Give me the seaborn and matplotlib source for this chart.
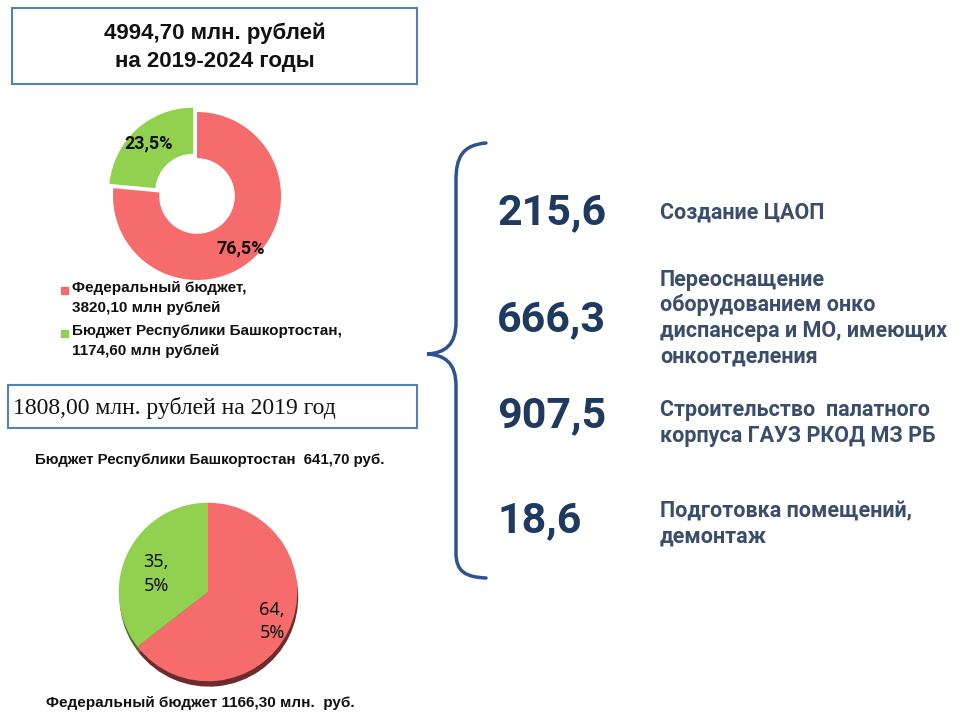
import numpy as np
import pandas as pd
import matplotlib
matplotlib.use('Agg')
import matplotlib.pyplot as plt
from matplotlib.patches import Rectangle, PathPatch
from matplotlib.path import Path
import seaborn as sns

# donut: 2019-2024 totals
total_title = '4994,70 млн. рублей\nна 2019-2024 годы'
donut_labels = ['Федеральный бюджет,\n3820,10 млн рублей',
                'Бюджет Республики Башкортостан,\n1174,60 млн рублей']
donut_values = [3820.10, 1174.60]
donut_pct = ['76,5%', '23,5%']

# pie: 2019
year_title = '1808,00 млн. рублей на 2019 год'
pie_values = [1166.30, 641.70]
pie_pct = ['64,\n5%', '35,\n5%']
pie_top_note = 'Бюджет Республики Башкортостан  641,70 руб.'
pie_bottom_note = 'Федеральный бюджет 1166,30 млн.  руб.'

# projects
project_values = ['215,6', '666,3', '907,5', '18,6']
project_names = ['Создание ЦАОП',
                 'Переоснащение\nоборудованием онко\nдиспансера и МО, имеющих\nонкоотделения',
                 'Строительство  палатного\nкорпуса ГАУЗ РКОД МЗ РБ',
                 'Подготовка помещений,\nдемонтаж']

sns.set_theme(style='white')
palette = ['#f66b6b', '#92d050']
shadow = ['#6e2b2b', '#4e6e2a']
bold_sans = ['Roboto', 'DejaVu Sans']

W, H = 972, 718
fig = plt.figure(figsize=(W / 100, H / 100), dpi=100)
bg = fig.add_axes([0, 0, 1, 1])
bg.set_xlim(0, W)
bg.set_ylim(H, 0)
bg.axis('off')


def px_axes(cx, cy, s):
    return fig.add_axes([(cx - s / 2) / W, 1 - (cy + s / 2) / H, s / W, s / H])


# title boxes
bg.add_patch(Rectangle((12, 8), 405, 76, fill=False, ec='#4f81bd', lw=1.5))
bg.text(215, 47, total_title, ha='center', va='center', fontsize=16,
        fontweight='bold', family='Liberation Sans', color='#111111', linespacing=1.45)
bg.add_patch(Rectangle((8, 385), 409, 43, fill=False, ec='#4f81bd', lw=1.5))
bg.text(13, 408, year_title, ha='left', va='center', fontsize=17,
        family='Liberation Serif', color='#111111')

# donut
ax1 = px_axes(197, 196, 210)
ax1.pie(donut_values, colors=palette, startangle=90, counterclock=False,
        explode=[0, 0.07], wedgeprops=dict(width=0.55, ec='white', lw=0))
ax1.set_xlim(-1.25, 1.25)
ax1.set_ylim(-1.25, 1.25)
ax1.text(0.52, -0.62, donut_pct[0], ha='center', va='center', fontsize=13,
         fontweight='bold', family=bold_sans, color='#111111')
ax1.text(-0.58, 0.62, donut_pct[1], ha='center', va='center', fontsize=13,
         fontweight='bold', family=bold_sans, color='#111111')

# donut legend
for i, (lab, col) in enumerate(zip(donut_labels, palette)):
    y = 291 + i * 43
    bg.add_patch(Rectangle((61, y - 4), 7, 7, color=col))
    bg.text(72, y - 10, lab, ha='left', va='top', fontsize=11, fontweight='bold',
            family='Liberation Sans', color='#111111', linespacing=1.55)

bg.text(210, 460, pie_top_note, ha='center', va='center', fontsize=10.8,
        fontweight='bold', family='Liberation Sans', color='#111111')

# pie 2019 with shadow
ax2 = px_axes(208, 592, 200)
ax2.pie(pie_values, colors=shadow, startangle=90, counterclock=False,
        center=(0.01, -0.06), wedgeprops=dict(lw=0))
ax2.pie(pie_values, colors=palette, startangle=90, counterclock=False,
        wedgeprops=dict(lw=0))
ax2.set_xlim(-1.12, 1.12)
ax2.set_ylim(-1.12, 1.12)
ax2.text(0.72, -0.33, pie_pct[0], ha='center', va='center', fontsize=13,
         family='Noto Sans', color='#111111', linespacing=1.4)
ax2.text(-0.58, 0.2, pie_pct[1], ha='center', va='center', fontsize=13,
         family='Noto Sans', color='#111111', linespacing=1.4)

bg.text(200, 703, pie_bottom_note, ha='center', va='center', fontsize=11,
        fontweight='bold', family='Liberation Sans', color='#111111')

# brace
verts = [(486, 143), (462, 145), (456, 158), (456, 180),
         (456, 322),
         (456, 345), (445, 353), (427, 354),
         (445, 355), (456, 363), (456, 386),
         (456, 553),
         (456, 572), (466, 577), (486, 578)]
codes = [Path.MOVETO, Path.CURVE4, Path.CURVE4, Path.CURVE4,
         Path.LINETO,
         Path.CURVE4, Path.CURVE4, Path.CURVE4,
         Path.CURVE4, Path.CURVE4, Path.CURVE4,
         Path.LINETO,
         Path.CURVE4, Path.CURVE4, Path.CURVE4]
bg.add_patch(PathPatch(Path(verts, codes), fill=False, ec='#2f5290', lw=2.5,
                       capstyle='round'))

# project values and names
proj = pd.DataFrame({'value': project_values, 'name': project_names,
                     'y_val': [213, 320, 416, 521],
                     'y_name': [213, 318, 423, 524]})
for _, r in proj.iterrows():
    bg.text(497, r.y_val, r.value, ha='left', va='center', fontsize=31,
            fontweight='bold', family=bold_sans, color='#1f3a5f')
    bg.text(660, r.y_name, r['name'], ha='left', va='center', fontsize=15.5,
            fontweight='bold', family=bold_sans, color='#3a4d6c', linespacing=1.2)

fig.savefig('out.png', dpi=100)
